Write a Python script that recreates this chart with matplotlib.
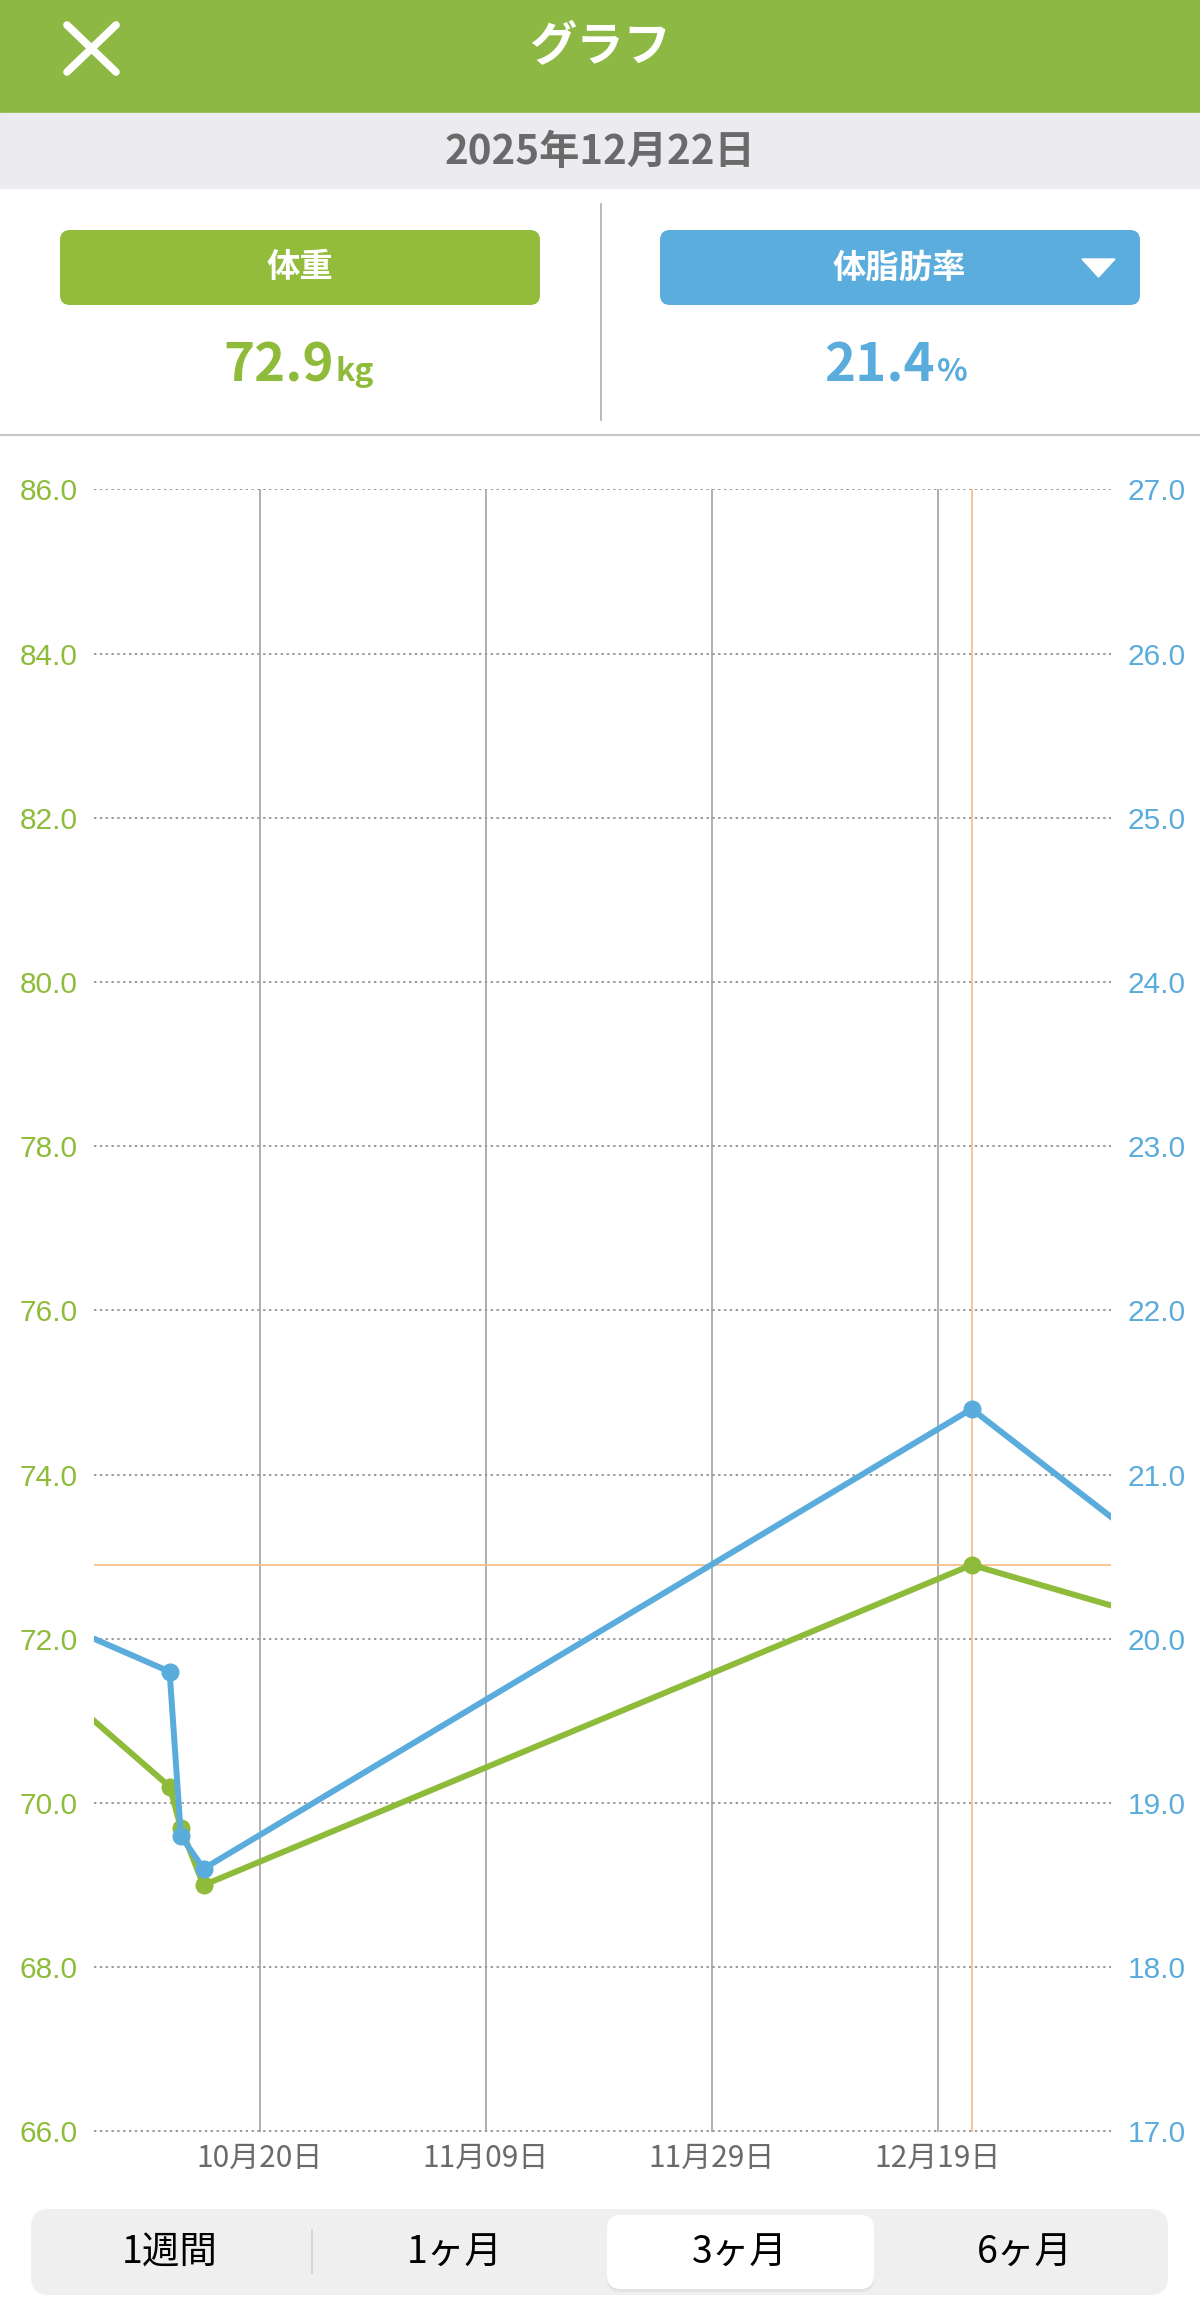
import datetime
import matplotlib
matplotlib.use("Agg")
import matplotlib.pyplot as plt
import matplotlib.dates as mdates
from matplotlib.patches import FancyBboxPatch, Rectangle, Polygon

plt.rcParams['font.family'] = ['Noto Sans CJK JP', 'DejaVu Sans']

# data (two points lie just outside the 3-month window)
dates = ['2025-10-02', '2025-10-12', '2025-10-13', '2025-10-15', '2025-12-22', '2026-01-06']
weight = [71.4, 70.2, 69.7, 69.0, 72.9, 72.3]
fat = [20.1, 19.8, 18.8, 18.6, 21.4, 20.6]

weight_ticks = [66, 68, 70, 72, 74, 76, 78, 80, 82, 84, 86]
fat_ticks = [17, 18, 19, 20, 21, 22, 23, 24, 25, 26, 27]
date_ticks = ['2025-10-20', '2025-11-09', '2025-11-29', '2025-12-19']
tabs = ['1週間', '1ヶ月', '3ヶ月', '6ヶ月']

sel_date = '2025-12-22'
sel_weight = 72.9
sel_fat = 21.4
title = 'グラフ'
day_label = '2025年12月22日'

green = '#8fbb3a'
head_green = '#8cb843'
blue = '#5aacdc'
orange = '#f6c08c'
grey_txt = '#6a6a6a'

x_date = [datetime.datetime.strptime(d, '%Y-%m-%d') for d in dates]
x_ticks = [datetime.datetime.strptime(d, '%Y-%m-%d') for d in date_ticks]
x_sel = datetime.datetime.strptime(sel_date, '%Y-%m-%d')

W, H = 1200, 2322
fig = plt.figure(figsize=(W / 100, H / 100), dpi=100, facecolor='white')

# background layer in pixel coordinates
bg = fig.add_axes([0, 0, 1, 1])
bg.set_xlim(0, W)
bg.set_ylim(H, 0)
bg.axis('off')

bg.add_patch(Rectangle((0, 0), W, 113, color=head_green))
bg.plot([67, 116], [25, 72], color='white', lw=5.5, solid_capstyle='round')
bg.plot([67, 116], [72, 25], color='white', lw=5.5, solid_capstyle='round')
bg.text(600, 47, title, color='white', fontsize=34, fontweight='bold', ha='center', va='center')

bg.add_patch(Rectangle((0, 113), W, 75, color='#ebebf0'))
bg.text(600, 152, day_label, color=grey_txt, fontsize=29, fontweight='bold', ha='center', va='center')

bg.plot([601, 601], [204, 420], color='#b4b4b4', lw=1.3)
bg.plot([0, W], [435, 435], color='#c8c8c8', lw=1.6)

bg.add_patch(FancyBboxPatch((60, 230), 480, 75, boxstyle='round,pad=0,rounding_size=10',
                            color='#93bc3c', lw=0))
bg.text(300, 268, '体重', color='white', fontsize=24, fontweight='bold', ha='center', va='center')
bg.add_patch(FancyBboxPatch((660, 230), 480, 75, boxstyle='round,pad=0,rounding_size=10',
                            color='#5badde', lw=0))
bg.text(899, 268, '体脂肪率', color='white', fontsize=24, fontweight='bold', ha='center', va='center')
bg.add_patch(Polygon([(1082, 259), (1115, 259), (1098.5, 277)], closed=True, color='white'))

bg.text(334, 381, '%.1f' % sel_weight, color=green, fontsize=38, fontweight='bold', ha='right', va='baseline')
bg.text(335, 381, 'kg', color=green, fontsize=23, fontweight='bold', ha='left', va='baseline')
bg.text(935, 381, '%.1f' % sel_fat, color=blue, fontsize=38, fontweight='bold', ha='right', va='baseline')
bg.text(937, 381, '%', color=blue, fontsize=23, fontweight='bold', ha='left', va='baseline')

# segment control at the bottom
bg.add_patch(FancyBboxPatch((31, 2209), 1137, 86, boxstyle='round,pad=0,rounding_size=18',
                            color='#efeff0', lw=0))
bg.add_patch(FancyBboxPatch((607, 2218), 267, 74, boxstyle='round,pad=0,rounding_size=14',
                            color='#e2e2e4', lw=0))
bg.add_patch(FancyBboxPatch((607, 2215), 267, 74, boxstyle='round,pad=0,rounding_size=14',
                            color='white', lw=0))
bg.plot([312, 312], [2230, 2273], color='#d0d0d0', lw=1.2)
for cx, t in zip([170, 455, 740, 1025], tabs):
    bg.text(cx, 2253, t, color='black', fontsize=27, ha='center', va='center')

# chart
left, right, top, bottom = 94.3, 1111, 489.3, 2131.5
ax = fig.add_axes([left / W, 1 - bottom / H, (right - left) / W, (bottom - top) / H])
ax.patch.set_visible(False)
ax2 = ax.twinx()

ax.set_xlim(datetime.datetime(2025, 10, 5, 8), datetime.datetime(2026, 1, 3, 8))
ax.set_ylim(66, 86)
ax2.set_ylim(17, 27)

ax.set_yticks(weight_ticks, labels=['%.1f' % v for v in weight_ticks], fontfamily='Liberation Sans')
ax2.set_yticks(fat_ticks, labels=['%.1f' % v for v in fat_ticks], fontfamily='Liberation Sans')
ax.set_xticks(x_ticks)
ax.xaxis.set_major_formatter(mdates.DateFormatter('%m月%d日'))

ax.tick_params(axis='y', length=0, pad=12, labelsize=21.5, labelcolor=green)
ax2.tick_params(axis='y', length=0, pad=12, labelsize=21.5, labelcolor=blue)
ax.tick_params(axis='x', length=0, pad=8, labelsize=21.5, labelcolor=grey_txt)
for a in (ax, ax2):
    for s in a.spines.values():
        s.set_visible(False)

ax.grid(axis='y', color='#9a9a9a', lw=1.4, linestyle=(0, (1.2, 1.8)))
ax.grid(axis='x', color='#9a9a9a', lw=1.1, linestyle='-')
ax.set_axisbelow(True)

ax.axhline(sel_weight, color=orange, lw=1.3, zorder=1.5)
ax.axvline(x_sel, color=orange, lw=1.3, zorder=1.5)

ax.plot(x_date, weight, color=green, lw=4.3, marker='o', ms=12, zorder=3)
ax2.plot(x_date, fat, color=blue, lw=4.3, marker='o', ms=12, zorder=3)

fig.savefig('out.png', dpi=100, facecolor='white')
